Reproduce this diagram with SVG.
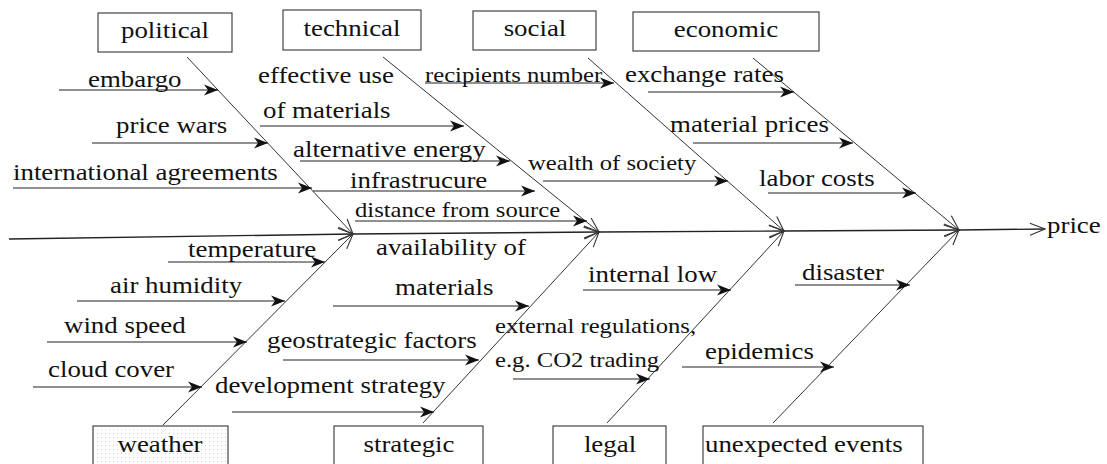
<svg xmlns="http://www.w3.org/2000/svg" width="1107" height="464" viewBox="0 0 1107 464" font-family="Liberation Serif, serif">
  <style>
    text { font-family: "Liberation Serif", serif; font-size: 24px; fill: #111; }
    .s { font-size: 22px; }
    .m { text-anchor: middle; }
    .box { fill: #fff; stroke: #333; stroke-width: 1.1; }
    .bone { fill: none; stroke: #333; stroke-width: 1; marker-end: url(#open); }
    .spine { fill: none; stroke: #222; stroke-width: 1.4; marker-end: url(#open); }
    .cause { fill: none; stroke: #222; stroke-width: 1.2; marker-end: url(#dart); }
  </style>
  <defs>
    <marker id="open" markerUnits="userSpaceOnUse" markerWidth="18" markerHeight="14" refX="15" refY="6" orient="auto" overflow="visible">
      <path d="M0,0 L15,6 L0,12" fill="none" stroke="#333" stroke-width="1.1"/>
    </marker>
    <marker id="dart" markerUnits="userSpaceOnUse" markerWidth="16" markerHeight="12" refX="14" refY="5.5" orient="auto" overflow="visible">
      <path d="M0,0 L14,5.5 L0,11 L4,5.5 Z" fill="#111"/>
    </marker>
    <pattern id="dots" width="4" height="4" patternUnits="userSpaceOnUse">
      <rect width="4" height="4" fill="#fff"/>
      <rect x="1" y="1" width="1" height="1" fill="#d4d4d4"/>
    </pattern>
  </defs>

  <!-- connectors: spine, category bones and cause arrows -->
  <g id="connectors">
    <!-- main spine -->
    <path class="spine" d="M9,239 L353,234"/>
    <path class="spine" d="M353,234 L599,232"/>
    <path class="spine" d="M599,232 L784,231"/>
    <path class="spine" d="M784,231 L959,230"/>
    <path class="spine" d="M959,230 L1045,229"/>
    <!-- upper bones -->
    <path class="bone" d="M187,57 L353,234"/>
    <path class="bone" d="M383,57 L599,232"/>
    <path class="bone" d="M588,58 L784,231"/>
    <path class="bone" d="M753,58 L959,230"/>
    <!-- lower bones -->
    <path class="bone" d="M163,425 L353,234"/>
    <path class="bone" d="M423,423 L599,232"/>
    <path class="bone" d="M607,423 L784,231"/>
    <path class="bone" d="M773,423 L959,230"/>
    <!-- political causes -->
    <path class="cause" d="M59,90 H218"/>
    <path class="cause" d="M92,143 H268"/>
    <path class="cause" d="M13,188 H312"/>
    <!-- technical causes -->
    <path class="cause" d="M260,126 H464"/>
    <path class="cause" d="M300,161 H510"/>
    <path class="cause" d="M313,191 H535"/>
    <path class="cause" d="M355,221 H587"/>
    <!-- social causes -->
    <path class="cause" d="M425,83 H614"/>
    <path class="cause" d="M543,181 H728"/>
    <!-- economic causes -->
    <path class="cause" d="M648,92 H794"/>
    <path class="cause" d="M693,143 H853"/>
    <path class="cause" d="M768,193 H916"/>
    <!-- weather causes -->
    <path class="cause" d="M168,262 H325"/>
    <path class="cause" d="M77,301 H285"/>
    <path class="cause" d="M47,342 H247"/>
    <path class="cause" d="M33,387 H202"/>
    <!-- strategic causes -->
    <path class="cause" d="M333,306 H529"/>
    <path class="cause" d="M283,360 H479"/>
    <path class="cause" d="M232,412 H434"/>
    <!-- legal causes -->
    <path class="cause" d="M583,290 H731"/>
    <path class="cause" d="M513,379 H650"/>
    <!-- unexpected events causes -->
    <path class="cause" d="M795,285 H910"/>
    <path class="cause" d="M682,367 H834"/>
  </g>

  <!-- category boxes -->
  <g id="political">
    <rect class="box" x="98" y="13" width="134" height="39"/>
    <text class="m" transform="translate(165,38) scale(1.12,1)">political</text>
  </g>
  <g id="technical">
    <rect class="box" x="283" y="10" width="138" height="40"/>
    <text class="m" transform="translate(352,36) scale(1.12,1)">technical</text>
  </g>
  <g id="social">
    <rect class="box" x="473" y="11" width="123" height="39"/>
    <text class="m" transform="translate(535,36) scale(1.12,1)">social</text>
  </g>
  <g id="economic">
    <rect class="box" x="633" y="12" width="186" height="39"/>
    <text class="m" transform="translate(726,37) scale(1.12,1)">economic</text>
  </g>
  <g id="weather">
    <rect class="box" x="93" y="426" width="135" height="42" style="fill:url(#dots)"/>
    <text class="m" transform="translate(160,452) scale(1.12,1)">weather</text>
  </g>
  <g id="strategic">
    <rect class="box" x="334" y="426" width="149" height="42"/>
    <text class="m" transform="translate(409,452) scale(1.12,1)">strategic</text>
  </g>
  <g id="legal">
    <rect class="box" x="553" y="426" width="113" height="42"/>
    <text class="m" transform="translate(610,452) scale(1.12,1)">legal</text>
  </g>
  <g id="unexpected-events">
    <rect class="box" x="703" y="426" width="220" height="42"/>
    <text transform="translate(705,452) scale(1.12,1)">unexpected events</text>
  </g>

  <!-- effect -->
  <g id="price">
    <text transform="translate(1047,233) scale(1.12,1)">price</text>
  </g>

  <!-- cause labels -->
  <g id="cause-embargo"><text transform="translate(88,87) scale(1.12,1)">embargo</text></g>
  <g id="cause-price-wars"><text transform="translate(116,133) scale(1.12,1)">price wars</text></g>
  <g id="cause-international-agreements"><text transform="translate(13,180) scale(1.12,1)">international agreements</text></g>

  <g id="cause-effective-use">
    <text transform="translate(258,83) scale(1.12,1)">effective use</text>
    <text transform="translate(263,118) scale(1.12,1)">of materials</text>
  </g>
  <g id="cause-alternative-energy"><text transform="translate(293,157) scale(1.12,1)">alternative energy</text></g>
  <g id="cause-infrastrucure"><text transform="translate(350,188) scale(1.12,1)">infrastrucure</text></g>
  <g id="cause-distance"><text class="s" transform="translate(355,217) scale(1.12,1)">distance from source</text></g>

  <g id="cause-recipients"><text class="s" transform="translate(425,82) scale(1.12,1)">recipients number</text></g>
  <g id="cause-wealth"><text class="s" transform="translate(528,170) scale(1.12,1)">wealth of society</text></g>

  <g id="cause-exchange-rates"><text transform="translate(625,82) scale(1.12,1)">exchange rates</text></g>
  <g id="cause-material-prices"><text transform="translate(670,132) scale(1.12,1)">material prices</text></g>
  <g id="cause-labor-costs"><text transform="translate(759,186) scale(1.12,1)">labor costs</text></g>

  <g id="cause-temperature"><text transform="translate(188,257) scale(1.12,1)">temperature</text></g>
  <g id="cause-air-humidity"><text transform="translate(110,293) scale(1.12,1)">air humidity</text></g>
  <g id="cause-wind-speed"><text transform="translate(64,333) scale(1.12,1)">wind speed</text></g>
  <g id="cause-cloud-cover"><text transform="translate(48,377) scale(1.12,1)">cloud cover</text></g>

  <g id="cause-availability">
    <text transform="translate(376,255) scale(1.12,1)">availability of</text>
    <text transform="translate(395,295) scale(1.12,1)">materials</text>
  </g>
  <g id="cause-geostrategic"><text transform="translate(267,348) scale(1.12,1)">geostrategic factors</text></g>
  <g id="cause-development"><text transform="translate(215,393) scale(1.12,1)">development strategy</text></g>

  <g id="cause-internal-low"><text transform="translate(588,282) scale(1.12,1)">internal low</text></g>
  <g id="cause-external-regulations">
    <text class="s" transform="translate(495,333) scale(1.12,1)">external regulations,</text>
    <text class="s" transform="translate(495,367) scale(1.12,1)">e.g. CO2 trading</text>
  </g>

  <g id="cause-disaster"><text transform="translate(802,280) scale(1.12,1)">disaster</text></g>
  <g id="cause-epidemics"><text transform="translate(705,359) scale(1.12,1)">epidemics</text></g>
</svg>
